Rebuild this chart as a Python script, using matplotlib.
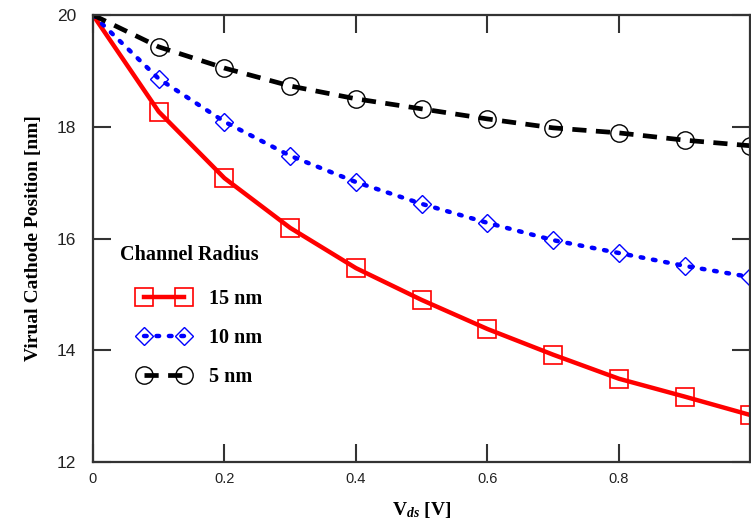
import matplotlib
matplotlib.use("Agg")
import matplotlib.pyplot as plt

plt.rcParams["mathtext.fontset"] = "custom"
plt.rcParams["mathtext.rm"] = "Liberation Serif:bold"
plt.rcParams["mathtext.it"] = "Liberation Serif:bold:italic"
plt.rcParams["mathtext.bf"] = "Liberation Serif:bold"

vds = [0.0, 0.1, 0.2, 0.3, 0.4, 0.5, 0.6, 0.7, 0.8, 0.9, 1.0]
r15 = [20.0, 18.27, 17.08, 16.19, 15.47, 14.90, 14.38, 13.92, 13.49, 13.17, 12.84]
r10 = [20.0, 18.86, 18.09, 17.48, 17.01, 16.62, 16.28, 15.97, 15.74, 15.51, 15.31]
r5 = [20.0, 19.43, 19.05, 18.73, 18.50, 18.32, 18.14, 17.98, 17.89, 17.76, 17.66]
xticks = [0, 0.2, 0.4, 0.6, 0.8]
xticklabels = ["0", "0.2", "0.4", "0.6", "0.8"]
yticks = [12, 14, 16, 18, 20]
labels = ["15 nm", "10 nm", "5 nm"]

fig = plt.figure(figsize=(7.51, 5.25), dpi=100)
ax = fig.add_axes([0.1238, 0.12, 0.8755, 0.8514])

mk = list(range(1, 11))
ax.plot(vds, r15, color="#ff0000", lw=3.2, ls="-", marker="s", ms=13,
        mfc="none", mec="#ff0000", mew=1.2, markevery=mk, label=labels[0])
ax.plot(vds, r10, color="#0000ff", lw=3.2, ls=(0, (0.6, 2.2)), marker="D", ms=9,
        mfc="none", mec="#0000ff", mew=1.0, markevery=mk, label=labels[1],
        dash_capstyle="round")
ax.plot(vds, r5, color="black", lw=3.4, ls=(0, (3, 2)), marker="o", ms=12.5,
        mfc="none", mec="black", mew=1.0, markevery=mk, label=labels[2])

ax.set_xlim(0, 1.0)
ax.set_ylim(12, 20)
ax.set_xticks(xticks)
ax.set_xticklabels(xticklabels)
ax.set_yticks(yticks)
ax.tick_params(direction="in", length=13, width=1.5, color="#333333",
               top=True, right=True)
ax.tick_params(axis="y", labelsize=12.5, pad=12)
ax.tick_params(axis="x", labelsize=10.5, pad=7)
for lab in ax.get_xticklabels() + ax.get_yticklabels():
    lab.set_fontfamily("Liberation Sans")
    lab.set_color("#222222")
for s in ax.spines.values():
    s.set_linewidth(1.6)
    s.set_color("#333333")

ax.set_xlabel(r"$\mathrm{V}_{ds}$ [V]", fontfamily="Liberation Serif", fontweight="bold",
              fontsize=14, labelpad=10)
ax.set_ylabel("Virual Cathode Position [nm]", fontfamily="Liberation Serif",
              fontweight="bold", fontsize=14, labelpad=11)

# legend title drawn separately (offset left of the entries, as in the reference)
fig.text(120 / 751, 1 - 255 / 525, "Channel Radius", fontfamily="Liberation Serif",
         fontweight="bold", fontsize=14.5, ha="left", va="center")

leg = ax.legend(loc="upper left", bbox_to_anchor=(138 / 751, 1 - 289 / 525),
                bbox_transform=fig.transFigure,
                frameon=False, numpoints=2, handlelength=2.6, labelspacing=0.95,
                handletextpad=0.95, borderaxespad=0, borderpad=0,
                prop={"family": "Liberation Serif", "weight": "bold", "size": 14.5})

fig.savefig("out.png", dpi=100)
